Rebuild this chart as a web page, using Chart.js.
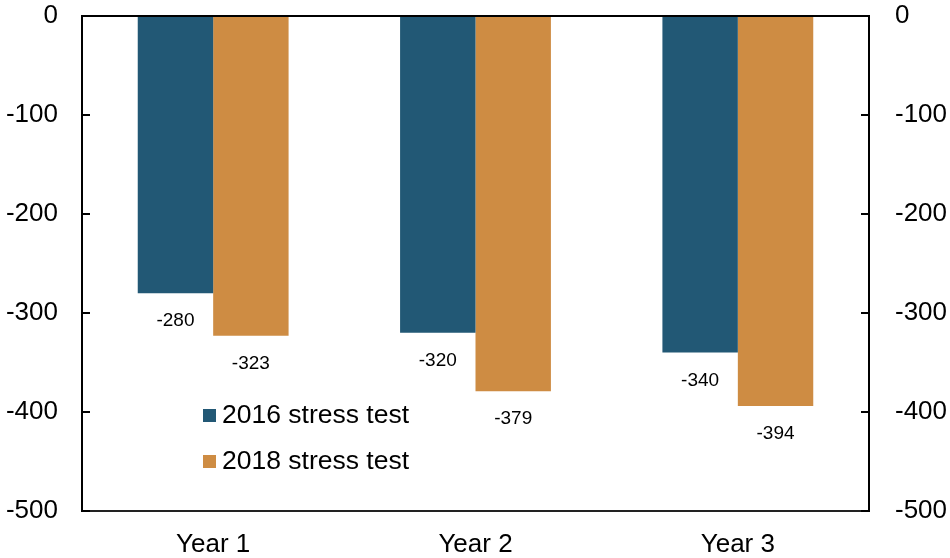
<!DOCTYPE html>
<html>
<head>
<meta charset="utf-8">
<script src="https://cdn.jsdelivr.net/npm/chart.js@4/dist/chart.umd.min.js"></script>
<style>
  html, body { margin: 0; padding: 0; background: #fff; }
  #wrap { width: 950px; height: 558px; }
</style>
</head>
<body>
<div id="wrap"><canvas id="stressChart" width="950" height="558"></canvas></div>
<script>
// values
const categories = ['Year 1', 'Year 2', 'Year 3'];
const test2016 = [-280, -320, -340];
const test2018 = [-323, -379, -394];
const yTicks = [0, -100, -200, -300, -400, -500];

const BLUE = '#225875';
const ORANGE = '#ce8c43';
const FONT = '"Liberation Sans", Arial, sans-serif';

// inward tick marks, zero line, value labels and the legend inside the plot
const extras = {
    id: 'extras',
    afterDatasetsDraw(chart) {
        const ctx = chart.ctx;
        const area = chart.chartArea;
        const yL = chart.scales.y;
        const yR = chart.scales.y2;

        ctx.save();
        ctx.strokeStyle = '#000';
        ctx.lineWidth = 2;
        yTicks.forEach(v => {
            const py = Math.round(yL.getPixelForValue(v));
            ctx.beginPath();
            ctx.moveTo(area.left, py);
            ctx.lineTo(area.left + 8, py);
            ctx.stroke();
            const pr = Math.round(yR.getPixelForValue(v));
            ctx.beginPath();
            ctx.moveTo(area.right - 8, pr);
            ctx.lineTo(area.right, pr);
            ctx.stroke();
        });

        // zero line
        const y0 = Math.round(yL.getPixelForValue(0));
        ctx.beginPath();
        ctx.moveTo(area.left, y0);
        ctx.lineTo(area.right, y0);
        ctx.stroke();

        // value labels under each bar
        ctx.fillStyle = '#000';
        ctx.font = '19px ' + FONT;
        ctx.textAlign = 'center';
        ctx.textBaseline = 'middle';
        chart.data.datasets.forEach((ds, i) => {
            chart.getDatasetMeta(i).data.forEach((bar, j) => {
                ctx.fillText(String(ds.data[j]), bar.x, bar.y + 28);
            });
        });

        // legend
        ctx.font = '26.5px ' + FONT;
        ctx.textAlign = 'left';
        chart.data.datasets.forEach((ds, i) => {
            const lx = area.left + 121;
            const ly = area.top + 399 + i * 46;
            ctx.fillStyle = ds.backgroundColor;
            ctx.fillRect(lx, ly - 6, 13, 13);
            ctx.fillStyle = '#000';
            ctx.fillText(ds.label, lx + 19, ly + 1);
        });
        ctx.restore();
    }
};

function fixVertical(width) {
    return function (scale) {
        scale.width = width;
        scale.paddingTop = 0;
        scale.paddingBottom = 0;
    };
}

const ctx = document.getElementById('stressChart').getContext('2d');
const stressChart = new Chart(ctx, {
    type: 'bar',
    data: {
        labels: categories,
        datasets: [{
            label: '2016 stress test',
            data: test2016,
            backgroundColor: BLUE,
            yAxisID: 'y'
        }, {
            label: '2018 stress test',
            data: test2018,
            backgroundColor: ORANGE,
            yAxisID: 'y'
        }]
    },
    options: {
        responsive: false,
        animation: false,
        categoryPercentage: 0.575,
        barPercentage: 1.0,
        layout: { padding: { top: 16, bottom: 0, left: 0, right: 0 } },
        plugins: {
            legend: { display: false },
            tooltip: { enabled: false }
        },
        scales: {
            x: {
                grid: { display: false, drawTicks: false },
                border: { display: true, color: '#222', width: 2 },
                ticks: {
                    color: '#000',
                    font: { family: FONT, size: 26 },
                    padding: 18
                },
                afterFit(scale) { scale.height = 47; }
            },
            y: {
                position: 'left',
                min: -500,
                max: 0,
                grid: { display: false, drawTicks: false },
                border: { display: true, color: '#000', width: 2 },
                ticks: {
                    stepSize: 100,
                    color: '#000',
                    font: { family: FONT, size: 26 },
                    padding: 24
                },
                afterFit: fixVertical(82)
            },
            y2: {
                position: 'right',
                min: -500,
                max: 0,
                grid: { display: false, drawTicks: false },
                border: { display: true, color: '#000', width: 2 },
                ticks: {
                    stepSize: 100,
                    color: '#000',
                    font: { family: FONT, size: 26 },
                    padding: 26
                },
                afterFit: fixVertical(81)
            }
        }
    },
    plugins: [extras]
});
</script>
</body>
</html>
